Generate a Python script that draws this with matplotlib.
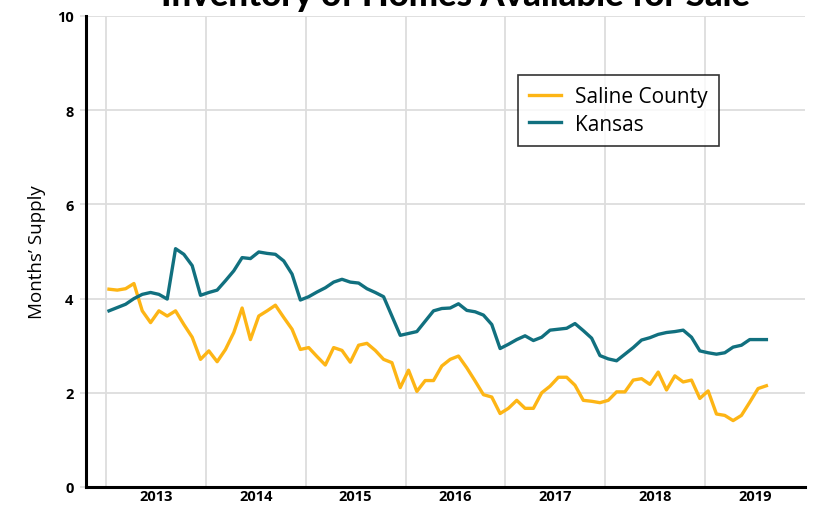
import matplotlib
matplotlib.use("Agg")
import matplotlib.pyplot as plt
import numpy as np
import pandas as pd

# monthly months'-supply, Jan 2013 .. Aug 2019
saline = [4.20, 4.18, 4.21, 4.32, 3.74, 3.49, 3.74, 3.63, 3.74, 3.45,
          3.18, 2.71, 2.89, 2.66, 2.92, 3.28, 3.80, 3.13, 3.63, 3.74,
          3.86, 3.60, 3.35, 2.92, 2.96, 2.77, 2.59, 2.96, 2.90, 2.65,
          3.01, 3.05, 2.90, 2.71, 2.64, 2.11, 2.48, 2.03, 2.26, 2.26,
          2.57, 2.71, 2.78, 2.53, 2.25, 1.96, 1.91, 1.56, 1.67, 1.84,
          1.67, 1.67, 2.00, 2.14, 2.33, 2.33, 2.16, 1.84, 1.82, 1.79,
          1.84, 2.02, 2.02, 2.27, 2.30, 2.18, 2.44, 2.06, 2.36, 2.23,
          2.27, 1.88, 2.04, 1.55, 1.52, 1.41, 1.52, 1.80, 2.09, 2.15]
kansas = [3.74, 3.81, 3.88, 4.00, 4.09, 4.13, 4.09, 3.99, 5.06, 4.94,
          4.70, 4.07, 4.13, 4.18, 4.38, 4.59, 4.87, 4.85, 4.99, 4.96,
          4.94, 4.80, 4.52, 3.97, 4.04, 4.14, 4.23, 4.35, 4.41, 4.35,
          4.33, 4.21, 4.13, 4.04, 3.63, 3.22, 3.26, 3.30, 3.52, 3.74,
          3.79, 3.80, 3.89, 3.75, 3.72, 3.65, 3.45, 2.94, 3.03, 3.13,
          3.21, 3.11, 3.18, 3.33, 3.35, 3.37, 3.47, 3.32, 3.16, 2.79,
          2.72, 2.68, 2.82, 2.96, 3.12, 3.17, 3.24, 3.28, 3.30, 3.33,
          3.18, 2.89, 2.85, 2.82, 2.85, 2.97, 3.01, 3.13, 3.13, 3.13]
years = [2013, 2014, 2015, 2016, 2017, 2018, 2019]
yticks = [0, 2, 4, 6, 8, 10]

dates = pd.date_range("2013-01-01", periods=len(saline), freq="MS")
x = dates.year + (dates.month - 1) / 12 + 0.03

plt.rcParams['font.family'] = ['Open Sans', 'DejaVu Sans']

fig = plt.figure(figsize=(8.17, 5.06), dpi=100)
ax = fig.add_axes([86/817, 18/506, (805-86)/817, (488-17)/506])

orange = '#FDB515'
teal = '#11707F'
ax.plot(x, saline, color=orange, lw=2.4, label='Saline County', zorder=3)
ax.plot(x, kansas, color=teal, lw=2.4, label='Kansas', zorder=3)

ax.set_xlim(2012.8, 2020.0)
ax.set_ylim(0, 10)
ax.set_yticks(yticks)
ax.set_yticklabels([str(v) for v in yticks], fontweight='bold', fontsize=10.5)

# year boundaries get gridlines, labels sit mid-year
ax.set_xticks(years)
ax.set_xticklabels([])
ax.set_xticks([y + 0.5 for y in years], minor=True)
ax.set_xticklabels([str(y) for y in years], minor=True, fontweight='bold', fontsize=10.5)
ax.tick_params(axis='x', which='both', length=0, pad=1.5)
ax.tick_params(axis='y', length=4, color='#dddddd', width=1.2, pad=5)

ax.grid(True, which='major', color='#dddddd', lw=1.3, zorder=0)
ax.set_axisbelow(True)
for s in ['top', 'right']:
    ax.spines[s].set_visible(False)
for s in ['left', 'bottom']:
    ax.spines[s].set_linewidth(2.2)
    ax.spines[s].set_color('black')

ax.set_ylabel("Months\u2019 Supply", fontsize=13.5, labelpad=8)

leg = ax.legend(loc='upper left', bbox_to_anchor=((518-86)/719, (488-76)/471),
                fontsize=15, frameon=True, fancybox=False, handlelength=1.5,
                borderpad=0.55, labelspacing=0.3, borderaxespad=0,
                handletextpad=0.7)
leg.get_frame().set_edgecolor('black')
leg.get_frame().set_linewidth(1.2)

fig.text(0.557, 1 - 6/506, 'Inventory of Homes Available for Sale',
         ha='center', va='baseline', fontsize=25, fontweight='black',
         family=['Lato', 'DejaVu Sans'])

fig.savefig('out.png', dpi=100)
